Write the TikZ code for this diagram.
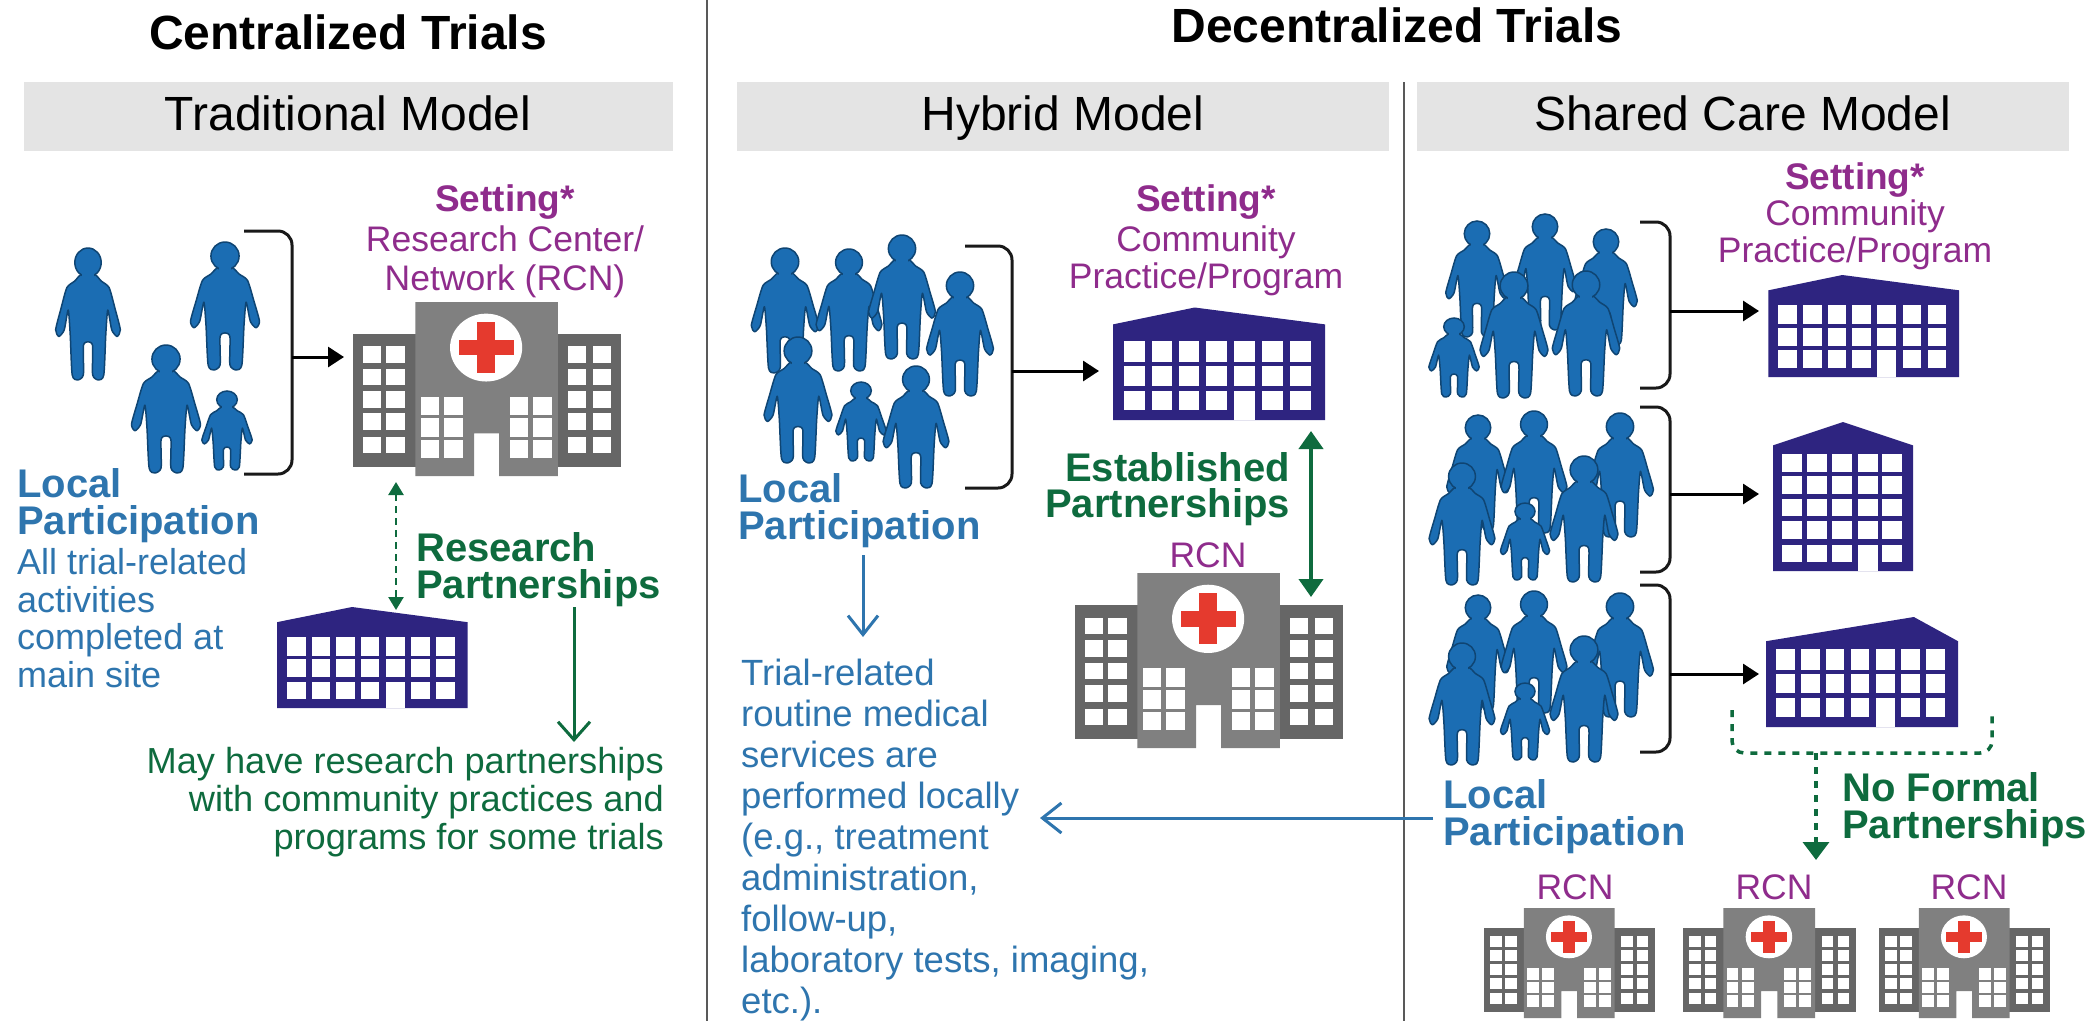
\documentclass[tikz,border=0pt]{standalone}
\usepackage{fontspec}
\setmainfont{Liberation Sans}
\usetikzlibrary{arrows.meta}
\definecolor{pblue}{HTML}{1B6DB3}
\definecolor{pedge}{HTML}{0F4573}
\definecolor{tblue}{HTML}{2E75AE}
\definecolor{tgreen}{HTML}{0E6B3E}
\definecolor{tpurple}{HTML}{8F2C8C}
\definecolor{navy}{HTML}{2E2480}
\definecolor{hwing}{HTML}{666666}
\definecolor{hmid}{HTML}{808080}
\definecolor{hred}{HTML}{E53A2E}
\definecolor{hdr}{HTML}{E4E4E4}
\newcommand\fs[2]{\fontsize{#1}{#2}\selectfont\lineskiplimit=-100pt\relax}
\newcommand\bldgdraw[2]{%
  \fill[navy] (0,#2) -- (#1,0) -- (100,#2) -- (100,100) -- (0,100) -- cycle;
  \foreach \x in {5.25,18.2,31,44,57.2,70.4,83.5}
    \foreach \y/\h in {29.5/19,51.8/17.7,74/17}
      \fill[white] (\x,\y) rectangle ++(9.75,\h);
  \fill[white] (57.2,74) rectangle (67,100);
}
\tikzset{
  person/.pic={
    \draw[pedge,fill=pblue,line width=1.5pt,line join=round]
      plot[smooth cycle,tension=.4] coordinates {(5,20)(10,25)(16,30)(20.5,46)(24.5,62)(22,67)(18,62)(15,47)(13.5,65)(12,96)(8,100)(3.5,96)(3.5,74)(0,71)(-3.5,74)(-3.5,96)(-8,100)(-12,96)(-13.5,65)(-15,47)(-18,62)(-22,67)(-24.5,62)(-20.5,46)(-16,30)(-10,25)(-5,20)};
    \draw[pedge,fill=pblue,line width=1.5pt] (0,11) ellipse [x radius=10,y radius=11];
    \fill[pblue] (-4.5,18) rectangle (4.5,26);
  },
  hosp/.pic={
    \fill[hwing] (0,95) rectangle (145,495);
    \fill[hwing] (457,95) rectangle (602,495);
    \fill[hmid] (140,0) -- (460,0) -- (460,523) -- (328,523) -- (328,395) -- (272,395) -- (272,523) -- (140,523) -- cycle;
    \foreach \y in {133,200,268,335,405}
      \foreach \x in {22,75,482,538}
        \fill[white] (\x,\y) rectangle ++(41,50);
    \foreach \y in {285,350,415}
      \foreach \x in {152,205,352,405}
        \fill[white] (\x,\y) rectangle ++(41,55);
    \fill[white] (299,137) ellipse [x radius=81,y radius=102];
    \fill[hred] (279,61) rectangle (319,213);
    \fill[hred] (237,115) rectangle (361,160);
  },
  bldg/.pic={\bldgdraw{#1}{15}},
  bldgtall/.pic={\bldgdraw{77}{22}},
  bldgnarrow/.pic={
    \fill[navy] (0,15.7) -- (50,0) -- (100,15.7) -- (100,100) -- (0,100) -- cycle;
    \foreach \x in {6.3,24.3,42.3,60.6,78}
      \foreach \y/\h in {21.7/11.8,36.5/12,51.5/11.8,66.4/11.9,82.3/11.7}
        \fill[white] (\x,\y) rectangle ++(14.2,\h);
    \fill[white] (60.6,82.3) rectangle (75,100);
  },
  rule/.style={draw=black!65,line width=2.5pt},
  brk/.style={draw=black!90,line width=3pt,rounded corners=14pt},
  tobldg/.style={draw=black,line width=3pt,-{Triangle[length=16pt,width=20pt]}},
  hdrbox/.style={fill=hdr,draw=none},
  title/.style={inner sep=0,anchor=base,font=\fs{48}{50}\bfseries},
  model/.style={inner sep=0,anchor=base,font=\fs{48}{50}},
  blockl/.style={inner sep=0,anchor=north west,align=left},
  blockr/.style={inner sep=0,anchor=north east,align=right},
  blockc/.style={inner sep=0,anchor=north,align=center},
  gthin/.style={draw=tgreen,line width=3pt,-{Straight Barb[length=18pt,width=32pt,line width=3pt]}},
  bthin/.style={draw=tblue,line width=3pt,-{Straight Barb[length=19pt,width=30pt,line width=3pt]}},
  gdash/.style={draw=tgreen,line width=3.5pt,dash pattern=on 7pt off 7pt},
}
\newcommand\hospat[4]{\pic[xscale={#3/602},yscale={#4/523}] at (#1,#2) {hosp};}
\newcommand\per[3]{\pic[xscale={#3/100*1.1},yscale={#3/100}] at (#1,#2) {person};}
\newcommand\kid[3]{\pic[xscale={#3/100*1.3},yscale={#3/100}] at (#1,#2) {person};}
\newcommand\bracketat[5]{%
  \coordinate (#1a) at (#2,#3); \coordinate (#1b) at (#4,#3);
  \coordinate (#1c) at (#4,#5); \coordinate (#1d) at (#2,#5);
  \draw[brk] (#1a) -- (#1b) -- (#1c) -- (#1d);}
\begin{document}
\begin{tikzpicture}[x=1pt,y=-1pt]
\useasboundingbox (0,0) rectangle (2090,1021);
\fill[white] (0,0) rectangle (2090,1021);

% headers
\fill[hdrbox] (24,82) rectangle (673,151);
\fill[hdrbox] (737,82) rectangle (1389,151);
\fill[hdrbox] (1417,82) rectangle (2069,151);
\coordinate (r1a) at (707,0); \coordinate (r1b) at (707,1021);
\coordinate (r2a) at (1404,82); \coordinate (r2b) at (1404,1021);
\draw[rule] (r1a) -- (r1b);
\draw[rule] (r2a) -- (r2b);
\node[title] (tc) at (348,49) {Centralized Trials};
\node[title] (td) at (1397,42) {Decentralized Trials};
\node[model] (m1) at (348,130) {Traditional Model};
\node[model] (m2) at (1063,130) {Hybrid Model};
\node[model] (m3) at (1743,130) {Shared Care Model};

% Traditional
\pic[scale=1.32] at (88,248) {person};
\per{225}{242}{128}
\per{166}{345}{128}
\kid{227}{391}{79}
\bracketat{bt}{244}{231}{292}{474}
\coordinate (at1) at (292,357); \coordinate (at2) at (344,357);
\draw[tobldg] (at1) -- (at2);
\hospat{353}{302}{268}{174}
\node[blockc,text=tpurple,font=\fs{35.5}{38.5}] (st) at (505,184) {{\bfseries\fontsize{37}{37}\selectfont Setting*}\\[2pt]Research Center/\\Network (RCN)};
\node[blockl,text=tblue,font=\fs{36}{37.7}] (lt) at (17,468) {{\bfseries\fontsize{40}{37}\selectfont Local}\\{\bfseries\fontsize{40}{37}\selectfont Participation}\\[2pt]All trial-related\\activities\\completed at\\main site};
\coordinate (dt1) at (396,482); \coordinate (dt2) at (396,610);
\draw[tgreen,line width=2.5pt,dash pattern=on 7pt off 5pt,{Triangle[length=13pt,width=15pt]}-{Triangle[length=13pt,width=15pt]}] (dt1) -- (dt2);
\node[blockl,text=tgreen,font=\fs{40}{37}\bfseries] (rp) at (416,532) {Research\\Partnerships};
\pic[xscale=1.905,yscale=1.01] at (277,607) {bldg=39.4};
\coordinate (gt1) at (574,607); \coordinate (gt2) at (574,742);
\draw[gthin] (gt1) -- (gt2);
\node[blockr,text=tgreen,font=\fs{36.2}{38.2}] (may) at (664,747) {May have research partnerships\\with community practices and\\programs for some trials};

% Hybrid
\per{785}{248}{125}
\per{849}{249}{122}
\per{902}{235}{124}
\per{960}{272}{124}
\per{798}{337}{126}
\kid{861}{382}{79}
\per{916}{366}{122}
\bracketat{bh}{965}{246}{1012}{488}
\coordinate (ah1) at (1012,371); \coordinate (ah2) at (1099,371);
\draw[tobldg] (ah1) -- (ah2);
\node[blockc,text=tpurple,font=\fs{35.5}{37}] (sh) at (1206,184) {{\bfseries\fontsize{37}{37}\selectfont Setting*}\\[3pt]Community\\Practice/Program};
\pic[xscale=2.12,yscale=1.125] at (1113,307.5) {bldg=38.5};
\coordinate (gh1) at (1311,431); \coordinate (gh2) at (1311,597);
\draw[tgreen,line width=4pt,{Triangle[length=18pt,width=24pt]}-{Triangle[length=18pt,width=24pt]}] (gh1) -- (gh2);
\node[blockr,text=tgreen,font=\fs{40}{36.5}\bfseries] (ep) at (1290,452) {Established\\Partnerships};
\node[inner sep=0,anchor=base,text=tpurple,font=\fs{35.5}{37}] (rh) at (1208,567) {RCN};
\hospat{1075}{573}{268}{175}
\node[blockl,text=tblue,font=\fs{40}{37}\bfseries] (lh) at (738,473) {Local\\Participation};
\coordinate (bh1) at (863,555); \coordinate (bh2) at (863,637);
\draw[bthin] (bh1) -- (bh2);
\node[blockl,text=tblue,font=\fs{36.5}{41}] (body) at (741,659) {Trial-related\\routine medical\\services are\\performed locally\\(e.g., treatment\\administration,\\follow-up,\\laboratory tests, imaging,\\etc.).};
\coordinate (bl1) at (1433,818); \coordinate (bl2) at (1040,818);
\draw[bthin] (bl1) -- (bl2);

% Shared care 1
\per{1477}{221}{116}
\per{1545}{214}{116}
\per{1606}{229}{116}
\kid{1454}{318}{79}
\per{1514}{272}{126}
\per{1586}{271}{125}
\bracketat{ba}{1640}{222}{1670}{388}
\coordinate (s11) at (1670,311); \coordinate (s12) at (1759,311);
\draw[tobldg] (s11) -- (s12);
\node[blockc,text=tpurple,font=\fs{35.5}{37}] (ss) at (1855,162) {{\bfseries\fontsize{37}{37}\selectfont Setting*}\\[-1pt]Community\\Practice/Program};
\pic[xscale=1.906,yscale=1.02] at (1768.4,275) {bldg=38.8};

% Shared care 2
\per{1478}{415}{116}
\per{1534}{411}{122}
\per{1620}{413}{124}
\per{1462}{463}{122}
\kid{1525}{503}{77}
\per{1584}{456}{126}
\bracketat{bb}{1640}{407}{1670}{572}
\coordinate (s21) at (1670,494); \coordinate (s22) at (1759,494);
\draw[tobldg] (s21) -- (s22);
\pic[xscale=1.4,yscale=1.49] at (1773,422) {bldgnarrow};

% Shared care 3
\per{1478}{595}{116}
\per{1534}{591}{122}
\per{1620}{593}{124}
\per{1462}{643}{122}
\kid{1525}{683}{77}
\per{1584}{636}{126}
\bracketat{bc}{1640}{585}{1670}{752}
\coordinate (s31) at (1670,674); \coordinate (s32) at (1759,674);
\draw[tobldg] (s31) -- (s32);
\pic[xscale=1.92,yscale=1.10] at (1766,617) {bldgtall};
\node[blockl,text=tblue,font=\fs{40}{37.5}\bfseries] (ls) at (1443,779) {Local\\Participation};
\coordinate (d1) at (1732,710); \coordinate (d2) at (1732,753); \coordinate (d3) at (1992,753); \coordinate (d4) at (1992,710);
\draw[gdash,rounded corners=12pt] (d1) -- (d2) -- (d3) -- (d4);
\coordinate (d5) at (1816,753); \coordinate (d6) at (1816,860);
\draw[tgreen,line width=3.5pt,dash pattern=on 7pt off 7pt,-{Triangle[length=18pt,width=26pt]}] (d5) -- (d6);
\node[blockl,text=tgreen,font=\fs{40}{37.5}\bfseries] (nf) at (1842,772) {No Formal\\Partnerships};
\node[inner sep=0,anchor=base,text=tpurple,font=\fs{35.5}{37}] (r1) at (1575,899) {RCN};
\node[inner sep=0,anchor=base,text=tpurple,font=\fs{35.5}{37}] (r2) at (1774,899) {RCN};
\node[inner sep=0,anchor=base,text=tpurple,font=\fs{35.5}{37}] (r3) at (1969,899) {RCN};
\hospat{1484}{908}{171}{110}
\hospat{1683}{908}{173}{110}
\hospat{1879}{908}{171}{110}
\end{tikzpicture}
\end{document}
